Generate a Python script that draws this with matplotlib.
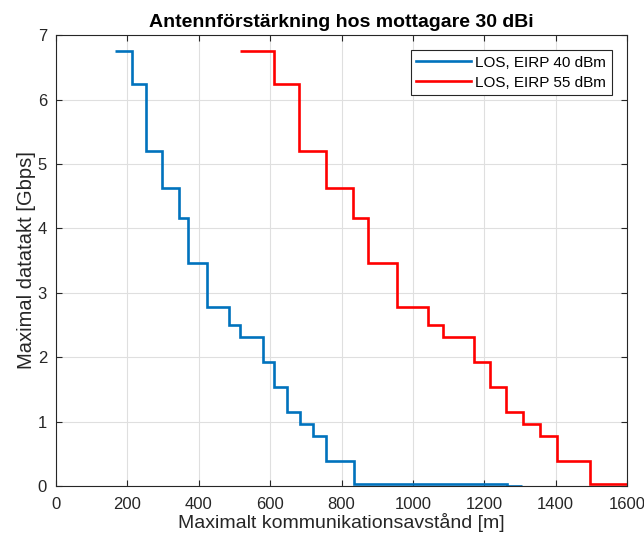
import numpy as np
import matplotlib.pyplot as plt

plt.rcParams['font.family'] = ['Liberation Sans', 'DejaVu Sans']

# datatakt per MCS-nivå [Gbps]
rates = [6.757, 6.237, 5.198, 4.62, 4.158, 3.465, 2.772, 2.502, 2.31,
         1.925, 1.54, 1.155, 0.9625, 0.77, 0.385, 0.0275]

# stegkanter [m] för respektive kurva
edges_40 = [166, 213, 253, 296, 344, 370, 423, 484, 515, 579, 611, 648,
            683, 721, 757, 835, 1264, 1307]
rates_40 = rates + [0.0]

edges_55 = [515, 611, 682, 757, 833, 875, 955, 1041, 1083, 1172, 1217,
            1262, 1309, 1355, 1403, 1497, 1600]
rates_55 = rates

labels = ['LOS, EIRP 40 dBm', 'LOS, EIRP 55 dBm']
colors = ['#0072BD', '#FF0000']

fig = plt.figure(figsize=(6.44, 5.40), dpi=100)
ax = fig.add_axes([0.087, 0.1, 0.8866, 0.835])

ax.stairs(rates_40, edges_40, baseline=None, color=colors[0], lw=1.9, label=labels[0])
ax.stairs(rates_55, edges_55, baseline=None, color=colors[1], lw=1.9, label=labels[1])

ax.set_xlim(0, 1600)
ax.set_ylim(0, 7)
ax.set_xticks(np.arange(0, 1601, 200))
ax.set_yticks(np.arange(0, 8, 1))
ax.grid(True, color='#dfdfdf', lw=0.8)
ax.set_axisbelow(True)
ax.tick_params(direction='in', top=True, right=True, labelsize=12, colors='#262626', length=4)
ax.tick_params(axis='x', pad=8)
ax.tick_params(axis='y', pad=6.5)
for s in ax.spines.values():
    s.set_color('#262626')
    s.set_linewidth(0.8)

ax.set_xlabel('Maximalt kommunikationsavstånd [m]', fontsize=14, color='#262626', labelpad=1)
ax.set_ylabel('Maximal datatakt [Gbps]', fontsize=14.5, color='#262626', labelpad=1)
ax.set_title('Antennförstärkning hos mottagare 30 dBi', fontsize=14, fontweight='bold', pad=6)

leg = ax.legend(loc='upper right', fontsize=11, fancybox=False, framealpha=1,
                edgecolor='#262626', borderaxespad=1.0, handlelength=3.6,
                handletextpad=0.3, labelspacing=0.4, borderpad=0.35)
leg.get_frame().set_linewidth(0.8)

fig.savefig('out.png', dpi=100)
